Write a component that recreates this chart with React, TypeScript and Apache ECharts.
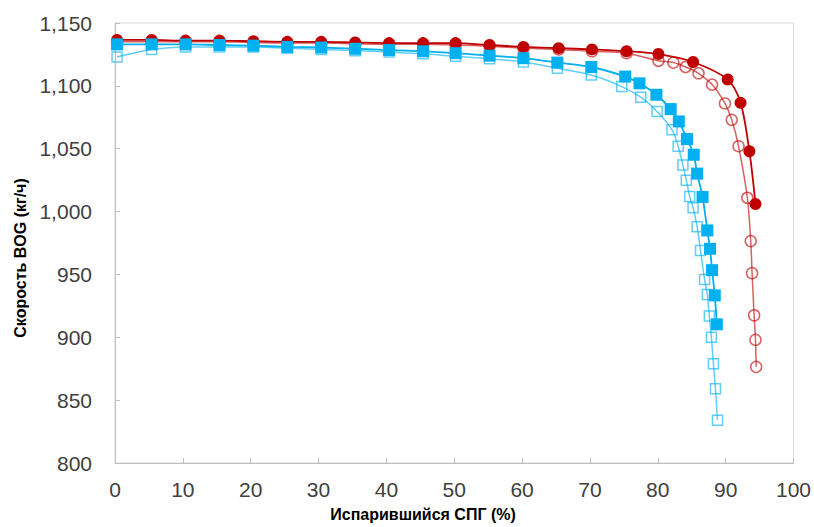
import React, { useEffect, useRef } from "react";
import * as echarts from "echarts";

const xTicks = [0, 10, 20, 30, 40, 50, 60, 70, 80, 90, 100];
const yTicks = [800, 850, 900, 950, 1000, 1050, 1100, 1150];

const redFilledX = [0.3, 5.4, 10.4, 15.4, 20.4, 25.4, 30.4, 35.4, 40.4, 45.4, 50.2, 55.2, 60.2, 65.4, 70.3, 75.4, 80.1, 85.2, 90.3, 92.2, 93.5, 94.4];
const redFilledY = [1136.5, 1136.5, 1136, 1136, 1135.5, 1135, 1135, 1134.5, 1134, 1134, 1134, 1132.5, 1131, 1130, 1129, 1127.5, 1125.3, 1119, 1105, 1086.5, 1048, 1006];

const redOpenX = [0.3, 5.4, 10.4, 15.4, 20.4, 25.4, 30.4, 35.4, 40.4, 45.4, 50.2, 55.2, 60.2, 65.4, 70.3, 75.4, 80.1, 82.3, 84.1, 86.0, 88.0, 89.9, 90.9, 91.9, 93.2, 93.7, 93.9, 94.2, 94.4, 94.5];
const redOpenY = [1135, 1135, 1135, 1135, 1134.5, 1134, 1134, 1133.5, 1133, 1133, 1132.5, 1131.5, 1130, 1129, 1127.5, 1126, 1120, 1118.5, 1115, 1110, 1101, 1086, 1073, 1052, 1011, 976.5, 951, 917.5, 898, 876.5];

const blueFilledX = [0.3, 5.4, 10.4, 15.4, 20.4, 25.4, 30.4, 35.4, 40.4, 45.4, 50.2, 55.2, 60.2, 65.2, 70.2, 75.2, 77.3, 79.8, 81.9, 83.1, 84.3, 85.3, 85.8, 86.6, 87.3, 87.7, 88.0, 88.4, 88.7];
const blueFilledY = [1133, 1133, 1133, 1132.5, 1132, 1131, 1130.5, 1129.5, 1128.5, 1127.5, 1126, 1124, 1122, 1118.5, 1115, 1107.4, 1102, 1092.9, 1081.5, 1071.7, 1057.7, 1045.2, 1030.2, 1011.7, 985, 970.4, 953.4, 933.3, 910.3];

const blueOpenX = [0.3, 5.4, 10.4, 15.4, 20.4, 25.4, 30.4, 35.4, 40.4, 45.4, 50.2, 55.2, 60.2, 65.2, 70.2, 74.7, 77.5, 79.9, 82.1, 83.0, 83.7, 84.2, 84.7, 85.2, 85.8, 86.3, 86.9, 87.3, 87.6, 87.9, 88.2, 88.5, 88.8];
const blueOpenY = [1123, 1129, 1131, 1131, 1131, 1130, 1129, 1128, 1127, 1125.5, 1123.5, 1121.5, 1119, 1114, 1108.6, 1099.4, 1091, 1079.6, 1065, 1052, 1037, 1025, 1012, 1003, 988, 969, 946, 934, 917, 900, 879, 859, 834];

const RED = "#C00000";
const BLUE = "#00B0F0";
const RED_LIGHT = "rgba(192,0,0,0.62)";
const BLUE_LIGHT = "rgba(0,176,240,0.62)";

const zip = (xs: number[], ys: number[]) => xs.map((x, i) => [x, ys[i]]);

export default function App() {
  const ref = useRef<HTMLDivElement>(null);
  useEffect(() => {
    if (!ref.current) return;
    const chart = echarts.init(ref.current, null, { renderer: "svg" });
    const labelFont = { fontFamily: "Liberation Sans, Arial, sans-serif", fontSize: 21, color: "#404040" };
    chart.setOption({
      animation: false,
      backgroundColor: "#ffffff",
      grid: {
        left: 115,
        right: 18,
        top: 23,
        bottom: 64,
        show: true,
        borderColor: "#d9d9d9",
        borderWidth: 1,
      },
      xAxis: {
        type: "value",
        min: xTicks[0],
        max: xTicks[xTicks.length - 1],
        interval: 10,
        axisLine: { show: true, lineStyle: { color: "#bfbfbf", width: 1 } },
        axisTick: { show: true, inside: true, length: 5, lineStyle: { color: "#bfbfbf" } },
        splitLine: { show: false },
        axisLabel: { ...labelFont, margin: 16 },
      },
      yAxis: {
        type: "value",
        min: yTicks[0],
        max: yTicks[yTicks.length - 1],
        interval: 50,
        axisLine: { show: true, lineStyle: { color: "#bfbfbf", width: 1 } },
        axisTick: { show: true, inside: true, length: 5, lineStyle: { color: "#bfbfbf" } },
        splitLine: { show: false },
        axisLabel: {
          ...labelFont,
          margin: 23,
          formatter: (v: number) => v.toLocaleString("en-US"),
        },
      },
      graphic: [
        {
          type: "text",
          x: 423,
          y: 514,
          style: {
            text: "Испарившийся СПГ (%)",
            fontFamily: "Liberation Sans, Arial, sans-serif",
            fontWeight: "bold",
            fontSize: 16,
            fill: "#000000",
            align: "center",
            verticalAlign: "middle",
          },
        },
        {
          type: "text",
          x: 20,
          y: 258,
          rotation: Math.PI / 2,
          style: {
            text: "Скорость BOG (кг/ч)",
            fontFamily: "Liberation Sans, Arial, sans-serif",
            fontWeight: "bold",
            fontSize: 16,
            fill: "#000000",
            align: "center",
            verticalAlign: "middle",
          },
        },
      ],
      series: [
        {
          type: "line",
          data: zip(redOpenX, redOpenY),
          smooth: 0.3,
          symbol: "circle",
          symbolSize: 11,
          lineStyle: { color: RED_LIGHT, width: 1.5 },
          itemStyle: { color: "rgba(255,255,255,0)", borderColor: RED_LIGHT, borderWidth: 1.5 },
        },
        {
          type: "line",
          data: zip(redFilledX, redFilledY),
          smooth: 0.3,
          symbol: "circle",
          symbolSize: 12,
          lineStyle: { color: RED, width: 1.8 },
          itemStyle: { color: RED, borderWidth: 0 },
        },
        {
          type: "line",
          data: zip(blueOpenX, blueOpenY),
          smooth: 0.3,
          symbol: "rect",
          symbolSize: 10,
          lineStyle: { color: BLUE_LIGHT, width: 1.5 },
          itemStyle: { color: "rgba(255,255,255,0)", borderColor: BLUE_LIGHT, borderWidth: 1.5 },
        },
        {
          type: "line",
          data: zip(blueFilledX, blueFilledY),
          smooth: 0.3,
          symbol: "rect",
          symbolSize: 12,
          lineStyle: { color: BLUE, width: 1.8 },
          itemStyle: { color: BLUE, borderWidth: 0 },
        },
      ],
    });
    return () => chart.dispose();
  }, []);
  return <div ref={ref} style={{ position: "fixed", left: 0, top: 0, width: 814, height: 527 }} />;
}
